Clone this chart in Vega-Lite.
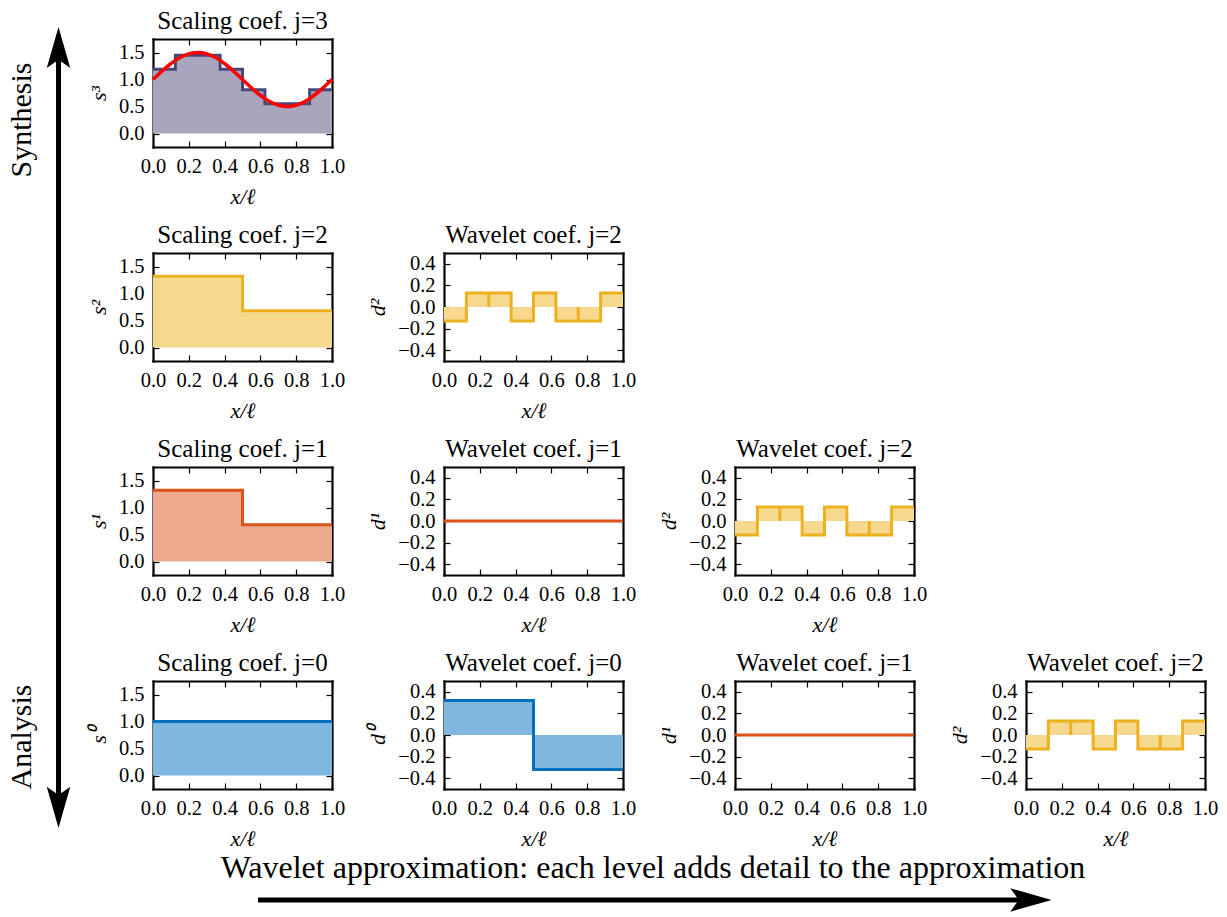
{
"$schema":"https://vega.github.io/schema/vega-lite/v6.json",
"background":"white",
"padding":{"left":0,"top":9,"right":5,"bottom":0},
"columns":5,
"bounds":"flush",
"spacing":{"row":106,"column":112},
"datasets":{
"s3":[{"x":0,"y":1.19},{"x":0.125,"y":1.45},{"x":0.25,"y":1.45},{"x":0.375,"y":1.19},{"x":0.5,"y":0.81},{"x":0.625,"y":0.55},{"x":0.75,"y":0.55},{"x":0.875,"y":0.81},{"x":1.0,"y":0.81}],
"signal":[{"x":0,"y":1.0},{"x":0.03125,"y":1.0975},{"x":0.0625,"y":1.1913},{"x":0.09375,"y":1.2778},{"x":0.125,"y":1.3536},{"x":0.15625,"y":1.4157},{"x":0.1875,"y":1.4619},{"x":0.21875,"y":1.4904},{"x":0.25,"y":1.5},{"x":0.28125,"y":1.4904},{"x":0.3125,"y":1.4619},{"x":0.34375,"y":1.4157},{"x":0.375,"y":1.3536},{"x":0.40625,"y":1.2778},{"x":0.4375,"y":1.1913},{"x":0.46875,"y":1.0975},{"x":0.5,"y":1.0},{"x":0.53125,"y":0.9025},{"x":0.5625,"y":0.8087},{"x":0.59375,"y":0.7222},{"x":0.625,"y":0.6464},{"x":0.65625,"y":0.5843},{"x":0.6875,"y":0.5381},{"x":0.71875,"y":0.5096},{"x":0.75,"y":0.5},{"x":0.78125,"y":0.5096},{"x":0.8125,"y":0.5381},{"x":0.84375,"y":0.5843},{"x":0.875,"y":0.6464},{"x":0.90625,"y":0.7222},{"x":0.9375,"y":0.8087},{"x":0.96875,"y":0.9025},{"x":1.0,"y":1.0}],
"s2":[{"x":0,"y":1.32},{"x":0.5,"y":0.68},{"x":1.0,"y":0.68}],
"s1":[{"x":0,"y":1.32},{"x":0.5,"y":0.68},{"x":1.0,"y":0.68}],
"s0":[{"x":0,"y":1.0},{"x":1.0,"y":1.0}],
"d2":[{"x":0,"y":-0.13},{"x":0.125,"y":0.13},{"x":0.25,"y":0.13},{"x":0.375,"y":-0.13},{"x":0.5,"y":0.13},{"x":0.625,"y":-0.13},{"x":0.75,"y":-0.13},{"x":0.875,"y":0.13},{"x":1.0,"y":0.13}],
"d2path":[{"i":0,"x":0,"y":-0.13},{"i":1,"x":0.125,"y":-0.13},{"i":2,"x":0.125,"y":0.13},{"i":3,"x":0.25,"y":0.13},{"i":4,"x":0.25,"y":0},{"i":5,"x":0.25,"y":0.13},{"i":6,"x":0.375,"y":0.13},{"i":7,"x":0.375,"y":-0.13},{"i":8,"x":0.5,"y":-0.13},{"i":9,"x":0.5,"y":0.13},{"i":10,"x":0.625,"y":0.13},{"i":11,"x":0.625,"y":-0.13},{"i":12,"x":0.75,"y":-0.13},{"i":13,"x":0.75,"y":0},{"i":14,"x":0.75,"y":-0.13},{"i":15,"x":0.875,"y":-0.13},{"i":16,"x":0.875,"y":0.13},{"i":17,"x":1.0,"y":0.13}],
"d1":[{"x":0,"y":0},{"x":1.0,"y":0}],
"d0":[{"x":0,"y":0.32},{"x":0.5,"y":-0.32},{"x":1.0,"y":-0.32}],
"deco":[
{"part":"vshaft","x":0.04768,"y":0.94602,"y2":0.11723},
{"part":"up","x":0.04768,"y":0.94602},
{"part":"down","x":0.04768,"y":0.11723},
{"part":"hshaft","x":0.21027,"x2":0.84026,"y":0.01636},
{"part":"right","x":0.84026,"y":0.01636},
{"part":"side","x":0.01793,"y":0.86696,"label":"Synthesis"},
{"part":"side","x":0.01793,"y":0.19411,"label":"Analysis"},
{"part":"caption","x":0.53219,"y":0.05125,"label":"Wavelet approximation: each level adds detail to the approximation"}
],
"blank":[{"v":0}]
},
"concat":[
{"width":41,"height":108,"data":{"name":"deco"},
 "layer":[
  {"transform":[{"filter":"datum.part==='vshaft'"}],"mark":{"type":"rule","color":"#000","strokeWidth":5},
   "encoding":{"x":{"field":"x","type":"quantitative","scale":{"domain":[0,0.033415],"nice":false,"zero":false},"axis":null},"y":{"field":"y","type":"quantitative","scale":{"domain":[0.83751,0.95529],"nice":false,"zero":false},"axis":null},"y2":{"field":"y2"}}},
  {"transform":[{"filter":"datum.part==='hshaft'"}],"mark":{"type":"rule","color":"#000","strokeWidth":5},
   "encoding":{"x":{"field":"x","type":"quantitative","axis":null},"x2":{"field":"x2"},"y":{"field":"y","type":"quantitative","axis":null}}},
  {"transform":[{"filter":"datum.part==='up'"}],"mark":{"type":"point","shape":"M0,-1L0.57,1L0,0.6L-0.57,1Z","filled":true,"color":"#000","opacity":1,"size":1700,"angle":0},
   "encoding":{"x":{"field":"x","type":"quantitative","axis":null},"y":{"field":"y","type":"quantitative","axis":null}}},
  {"transform":[{"filter":"datum.part==='down'"}],"mark":{"type":"point","shape":"M0,-1L0.57,1L0,0.6L-0.57,1Z","filled":true,"color":"#000","opacity":1,"size":1700,"angle":180},
   "encoding":{"x":{"field":"x","type":"quantitative","axis":null},"y":{"field":"y","type":"quantitative","axis":null}}},
  {"transform":[{"filter":"datum.part==='right'"}],"mark":{"type":"point","shape":"M0,-1L0.57,1L0,0.6L-0.57,1Z","filled":true,"color":"#000","opacity":1,"size":1700,"angle":90},
   "encoding":{"x":{"field":"x","type":"quantitative","axis":null},"y":{"field":"y","type":"quantitative","axis":null}}},
  {"transform":[{"filter":"datum.part==='side'"}],"mark":{"type":"text","font":"Liberation Serif","fontSize":30,"angle":270,"align":"center","baseline":"middle","color":"#000"},
   "encoding":{"x":{"field":"x","type":"quantitative","axis":null},"y":{"field":"y","type":"quantitative","axis":null},"text":{"field":"label"}}},
  {"transform":[{"filter":"datum.part==='caption'"}],"mark":{"type":"text","font":"Liberation Serif","fontSize":32,"align":"center","baseline":"middle","color":"#000"},
   "encoding":{"x":{"field":"x","type":"quantitative","axis":null},"y":{"field":"y","type":"quantitative","axis":null},"text":{"field":"label"}}}
 ]},
{"width":179,"height":108,"title":"Scaling coef. j=3",
 "layer":[
  {"data":{"name":"s3"},"mark":{"type":"area","interpolate":"step-after","color":"#a8a5bc","opacity":1},
   "encoding":{"x":{"field":"x","type":"quantitative","scale":{"domain":[0,1],"nice":false,"zero":false},"axis":{"orient":"bottom","values":[0,0.2,0.4,0.6,0.8,1],"format":".1f","title":"x/ℓ"}},
   "y":{"field":"y","type":"quantitative","scale":{"domain":[-0.25,1.75],"nice":false,"zero":false},"axis":{"orient":"left","values":[0,0.5,1,1.5],"format":".1f","title":"s³"}},"y2":{"datum":0}}},
  {"data":{"name":"s3"},"mark":{"type":"line","interpolate":"step-after","color":"#48477a","strokeWidth":3},
   "encoding":{"x":{"field":"x","type":"quantitative","axis":{"orient":"top","values":[0,0.2,0.4,0.6,0.8,1],"labels":false,"title":null}},
   "y":{"field":"y","type":"quantitative","axis":{"orient":"right","values":[0,0.5,1,1.5],"labels":false,"title":null}}}},
  {"data":{"name":"signal"},"mark":{"type":"line","interpolate":"monotone","color":"#ff0000","strokeWidth":3.5},
   "encoding":{"x":{"field":"x","type":"quantitative","axis":null},"y":{"field":"y","type":"quantitative","axis":null}}}
 ],
 "resolve":{"axis":{"x":"independent","y":"independent"}}},
{"width":41,"height":108,"data":{"name":"blank"},"mark":{"type":"point","opacity":0},"encoding":{}},
{"width":41,"height":108,"data":{"name":"blank"},"mark":{"type":"point","opacity":0},"encoding":{}},
{"width":41,"height":108,"data":{"name":"blank"},"mark":{"type":"point","opacity":0},"encoding":{}},
{"width":41,"height":108,"data":{"name":"blank"},"mark":{"type":"point","opacity":0},"encoding":{}},
{"width":179,"height":108,"title":"Scaling coef. j=2",
 "layer":[
  {"data":{"name":"s2"},"mark":{"type":"area","interpolate":"step-after","color":"#f6d88f","opacity":1},
   "encoding":{"x":{"field":"x","type":"quantitative","scale":{"domain":[0,1],"nice":false,"zero":false},"axis":{"orient":"bottom","values":[0,0.2,0.4,0.6,0.8,1],"format":".1f","title":"x/ℓ"}},
   "y":{"field":"y","type":"quantitative","scale":{"domain":[-0.25,1.75],"nice":false,"zero":false},"axis":{"orient":"left","values":[0,0.5,1,1.5],"format":".1f","title":"s²"}},"y2":{"datum":0}}},
  {"data":{"name":"s2"},"mark":{"type":"line","interpolate":"step-after","color":"#EDB120","strokeWidth":3},
   "encoding":{"x":{"field":"x","type":"quantitative","axis":{"orient":"top","values":[0,0.2,0.4,0.6,0.8,1],"labels":false,"title":null}},
   "y":{"field":"y","type":"quantitative","axis":{"orient":"right","values":[0,0.5,1,1.5],"labels":false,"title":null}}}}
 ],
 "resolve":{"axis":{"x":"independent","y":"independent"}}},
{"width":179,"height":108,"title":"Wavelet coef. j=2",
 "layer":[
  {"data":{"name":"d2"},"mark":{"type":"area","interpolate":"step-after","color":"#f6d88f","opacity":1},
   "encoding":{"x":{"field":"x","type":"quantitative","scale":{"domain":[0,1],"nice":false,"zero":false},"axis":{"orient":"bottom","values":[0,0.2,0.4,0.6,0.8,1],"format":".1f","title":"x/ℓ"}},
   "y":{"field":"y","type":"quantitative","scale":{"domain":[-0.5,0.5],"nice":false,"zero":false},"axis":{"orient":"left","values":[-0.4,-0.2,0,0.2,0.4],"format":".1f","title":"d²"}},"y2":{"datum":0}}},
  {"data":{"name":"d2path"},"mark":{"type":"line","color":"#EDB120","strokeWidth":3},
   "encoding":{"x":{"field":"x","type":"quantitative","axis":{"orient":"top","values":[0,0.2,0.4,0.6,0.8,1],"labels":false,"title":null}},
   "y":{"field":"y","type":"quantitative","axis":{"orient":"right","values":[-0.4,-0.2,0,0.2,0.4],"labels":false,"title":null}},"order":{"field":"i","type":"quantitative"}}}
 ],
 "resolve":{"axis":{"x":"independent","y":"independent"}}},
{"width":41,"height":108,"data":{"name":"blank"},"mark":{"type":"point","opacity":0},"encoding":{}},
{"width":41,"height":108,"data":{"name":"blank"},"mark":{"type":"point","opacity":0},"encoding":{}},
{"width":41,"height":108,"data":{"name":"blank"},"mark":{"type":"point","opacity":0},"encoding":{}},
{"width":179,"height":108,"title":"Scaling coef. j=1",
 "layer":[
  {"data":{"name":"s1"},"mark":{"type":"area","interpolate":"step-after","color":"#eca98c","opacity":1},
   "encoding":{"x":{"field":"x","type":"quantitative","scale":{"domain":[0,1],"nice":false,"zero":false},"axis":{"orient":"bottom","values":[0,0.2,0.4,0.6,0.8,1],"format":".1f","title":"x/ℓ"}},
   "y":{"field":"y","type":"quantitative","scale":{"domain":[-0.25,1.75],"nice":false,"zero":false},"axis":{"orient":"left","values":[0,0.5,1,1.5],"format":".1f","title":"s¹"}},"y2":{"datum":0}}},
  {"data":{"name":"s1"},"mark":{"type":"line","interpolate":"step-after","color":"#D95319","strokeWidth":3},
   "encoding":{"x":{"field":"x","type":"quantitative","axis":{"orient":"top","values":[0,0.2,0.4,0.6,0.8,1],"labels":false,"title":null}},
   "y":{"field":"y","type":"quantitative","axis":{"orient":"right","values":[0,0.5,1,1.5],"labels":false,"title":null}}}}
 ],
 "resolve":{"axis":{"x":"independent","y":"independent"}}},
{"width":179,"height":108,"title":"Wavelet coef. j=1",
 "layer":[
  {"data":{"name":"d1"},"mark":{"type":"area","interpolate":"step-after","color":"#eca98c","opacity":1},
   "encoding":{"x":{"field":"x","type":"quantitative","scale":{"domain":[0,1],"nice":false,"zero":false},"axis":{"orient":"bottom","values":[0,0.2,0.4,0.6,0.8,1],"format":".1f","title":"x/ℓ"}},
   "y":{"field":"y","type":"quantitative","scale":{"domain":[-0.5,0.5],"nice":false,"zero":false},"axis":{"orient":"left","values":[-0.4,-0.2,0,0.2,0.4],"format":".1f","title":"d¹"}},"y2":{"datum":0}}},
  {"data":{"name":"d1"},"mark":{"type":"line","interpolate":"step-after","color":"#D95319","strokeWidth":3},
   "encoding":{"x":{"field":"x","type":"quantitative","axis":{"orient":"top","values":[0,0.2,0.4,0.6,0.8,1],"labels":false,"title":null}},
   "y":{"field":"y","type":"quantitative","axis":{"orient":"right","values":[-0.4,-0.2,0,0.2,0.4],"labels":false,"title":null}}}}
 ],
 "resolve":{"axis":{"x":"independent","y":"independent"}}},
{"width":179,"height":108,"title":"Wavelet coef. j=2",
 "layer":[
  {"data":{"name":"d2"},"mark":{"type":"area","interpolate":"step-after","color":"#f6d88f","opacity":1},
   "encoding":{"x":{"field":"x","type":"quantitative","scale":{"domain":[0,1],"nice":false,"zero":false},"axis":{"orient":"bottom","values":[0,0.2,0.4,0.6,0.8,1],"format":".1f","title":"x/ℓ"}},
   "y":{"field":"y","type":"quantitative","scale":{"domain":[-0.5,0.5],"nice":false,"zero":false},"axis":{"orient":"left","values":[-0.4,-0.2,0,0.2,0.4],"format":".1f","title":"d²"}},"y2":{"datum":0}}},
  {"data":{"name":"d2path"},"mark":{"type":"line","color":"#EDB120","strokeWidth":3},
   "encoding":{"x":{"field":"x","type":"quantitative","axis":{"orient":"top","values":[0,0.2,0.4,0.6,0.8,1],"labels":false,"title":null}},
   "y":{"field":"y","type":"quantitative","axis":{"orient":"right","values":[-0.4,-0.2,0,0.2,0.4],"labels":false,"title":null}},"order":{"field":"i","type":"quantitative"}}}
 ],
 "resolve":{"axis":{"x":"independent","y":"independent"}}},
{"width":41,"height":108,"data":{"name":"blank"},"mark":{"type":"point","opacity":0},"encoding":{}},
{"width":41,"height":108,"data":{"name":"blank"},"mark":{"type":"point","opacity":0},"encoding":{}},
{"width":179,"height":108,"title":"Scaling coef. j=0",
 "layer":[
  {"data":{"name":"s0"},"mark":{"type":"area","interpolate":"step-after","color":"#7fb8de","opacity":1},
   "encoding":{"x":{"field":"x","type":"quantitative","scale":{"domain":[0,1],"nice":false,"zero":false},"axis":{"orient":"bottom","values":[0,0.2,0.4,0.6,0.8,1],"format":".1f","title":"x/ℓ"}},
   "y":{"field":"y","type":"quantitative","scale":{"domain":[-0.25,1.75],"nice":false,"zero":false},"axis":{"orient":"left","values":[0,0.5,1,1.5],"format":".1f","title":"s⁰"}},"y2":{"datum":0}}},
  {"data":{"name":"s0"},"mark":{"type":"line","interpolate":"step-after","color":"#0072BD","strokeWidth":3},
   "encoding":{"x":{"field":"x","type":"quantitative","axis":{"orient":"top","values":[0,0.2,0.4,0.6,0.8,1],"labels":false,"title":null}},
   "y":{"field":"y","type":"quantitative","axis":{"orient":"right","values":[0,0.5,1,1.5],"labels":false,"title":null}}}}
 ],
 "resolve":{"axis":{"x":"independent","y":"independent"}}},
{"width":179,"height":108,"title":"Wavelet coef. j=0",
 "layer":[
  {"data":{"name":"d0"},"mark":{"type":"area","interpolate":"step-after","color":"#7fb8de","opacity":1},
   "encoding":{"x":{"field":"x","type":"quantitative","scale":{"domain":[0,1],"nice":false,"zero":false},"axis":{"orient":"bottom","values":[0,0.2,0.4,0.6,0.8,1],"format":".1f","title":"x/ℓ"}},
   "y":{"field":"y","type":"quantitative","scale":{"domain":[-0.5,0.5],"nice":false,"zero":false},"axis":{"orient":"left","values":[-0.4,-0.2,0,0.2,0.4],"format":".1f","title":"d⁰"}},"y2":{"datum":0}}},
  {"data":{"name":"d0"},"mark":{"type":"line","interpolate":"step-after","color":"#0072BD","strokeWidth":3},
   "encoding":{"x":{"field":"x","type":"quantitative","axis":{"orient":"top","values":[0,0.2,0.4,0.6,0.8,1],"labels":false,"title":null}},
   "y":{"field":"y","type":"quantitative","axis":{"orient":"right","values":[-0.4,-0.2,0,0.2,0.4],"labels":false,"title":null}}}}
 ],
 "resolve":{"axis":{"x":"independent","y":"independent"}}},
{"width":179,"height":108,"title":"Wavelet coef. j=1",
 "layer":[
  {"data":{"name":"d1"},"mark":{"type":"area","interpolate":"step-after","color":"#eca98c","opacity":1},
   "encoding":{"x":{"field":"x","type":"quantitative","scale":{"domain":[0,1],"nice":false,"zero":false},"axis":{"orient":"bottom","values":[0,0.2,0.4,0.6,0.8,1],"format":".1f","title":"x/ℓ"}},
   "y":{"field":"y","type":"quantitative","scale":{"domain":[-0.5,0.5],"nice":false,"zero":false},"axis":{"orient":"left","values":[-0.4,-0.2,0,0.2,0.4],"format":".1f","title":"d¹"}},"y2":{"datum":0}}},
  {"data":{"name":"d1"},"mark":{"type":"line","interpolate":"step-after","color":"#D95319","strokeWidth":3},
   "encoding":{"x":{"field":"x","type":"quantitative","axis":{"orient":"top","values":[0,0.2,0.4,0.6,0.8,1],"labels":false,"title":null}},
   "y":{"field":"y","type":"quantitative","axis":{"orient":"right","values":[-0.4,-0.2,0,0.2,0.4],"labels":false,"title":null}}}}
 ],
 "resolve":{"axis":{"x":"independent","y":"independent"}}},
{"width":179,"height":108,"title":"Wavelet coef. j=2",
 "layer":[
  {"data":{"name":"d2"},"mark":{"type":"area","interpolate":"step-after","color":"#f6d88f","opacity":1},
   "encoding":{"x":{"field":"x","type":"quantitative","scale":{"domain":[0,1],"nice":false,"zero":false},"axis":{"orient":"bottom","values":[0,0.2,0.4,0.6,0.8,1],"format":".1f","title":"x/ℓ"}},
   "y":{"field":"y","type":"quantitative","scale":{"domain":[-0.5,0.5],"nice":false,"zero":false},"axis":{"orient":"left","values":[-0.4,-0.2,0,0.2,0.4],"format":".1f","title":"d²"}},"y2":{"datum":0}}},
  {"data":{"name":"d2path"},"mark":{"type":"line","color":"#EDB120","strokeWidth":3},
   "encoding":{"x":{"field":"x","type":"quantitative","axis":{"orient":"top","values":[0,0.2,0.4,0.6,0.8,1],"labels":false,"title":null}},
   "y":{"field":"y","type":"quantitative","axis":{"orient":"right","values":[-0.4,-0.2,0,0.2,0.4],"labels":false,"title":null}},"order":{"field":"i","type":"quantitative"}}}
 ],
 "resolve":{"axis":{"x":"independent","y":"independent"}}}
],
"config":{
 "view":{"stroke":null},
 "font":"Liberation Serif",
 "title":{"font":"Liberation Serif","fontSize":25,"fontWeight":"normal","color":"#000","offset":4,"baseline":"alphabetic","anchor":"middle"},
 "axis":{"grid":false,"domain":true,"domainColor":"#000","domainWidth":2.2,"domainCap":"square","ticks":true,"tickColor":"#000","tickSize":-6,"tickWidth":1.2,"labelFont":"Liberation Serif","labelFontSize":20.5,"labelColor":"#000","labelPadding":15,"labelFlush":false,"labelOverlap":false,"labelBound":false,"titleFont":"Liberation Serif","titleFontSize":22,"titleFontWeight":"normal","titleFontStyle":"italic","titleColor":"#000","zindex":1},
 "axisX":{"titlePadding":10},
 "axisY":{"titlePadding":8}
}
}
